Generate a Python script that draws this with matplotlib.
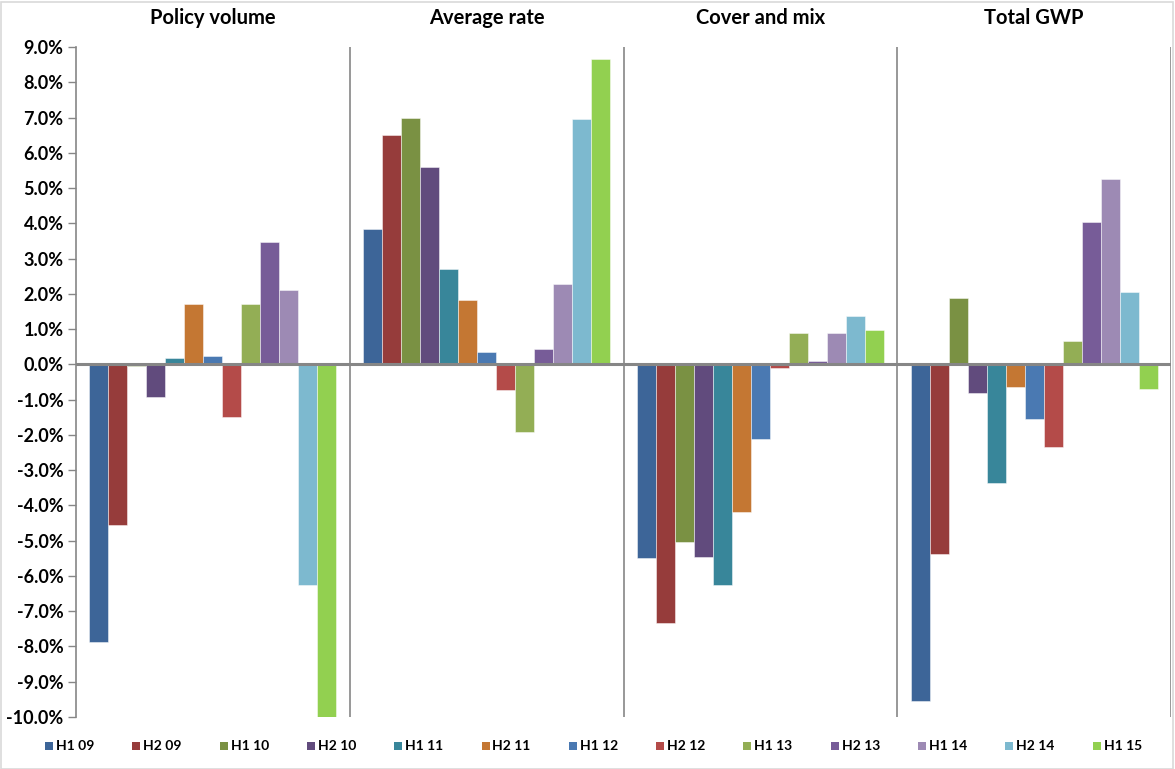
import matplotlib
matplotlib.use("Agg")
import matplotlib.pyplot as plt
import numpy as np
from matplotlib.patches import Rectangle
from matplotlib.ticker import FuncFormatter, MultipleLocator

plt.rcParams["font.family"] = ["Lato", "DejaVu Sans"]

# ---------------------------------------------------------------- data
panels = ["Policy volume", "Average rate", "Cover and mix", "Total GWP"]
periods = ["H1 09", "H2 09", "H1 10", "H2 10", "H1 11", "H2 11", "H1 12",
           "H2 12", "H1 13", "H2 13", "H1 14", "H2 14", "H1 15"]

# % change per period, one list per panel
policy_volume = [-7.87, -4.55, -0.05, -0.93, 0.19, 1.71, 0.25,
                 -1.50, 1.71, 3.47, 2.11, -6.27, -10.2]
average_rate = [3.84, 6.50, 7.00, 5.59, 2.70, 1.83, 0.35,
                -0.72, -1.92, 0.45, 2.28, 6.97, 8.65]
cover_and_mix = [-5.49, -7.33, -5.05, -5.47, -6.26, -4.20, -2.13,
                 -0.11, 0.90, 0.10, 0.89, 1.36, 0.97]
total_gwp = [-9.54, -5.38, 1.88, -0.82, -3.37, -0.64, -1.54,
             -2.35, 0.67, 4.03, 5.26, 2.05, -0.69]

colours = ["#3D6598", "#963C3B", "#7A9143", "#614B7D", "#38869A", "#C47733",
           "#4A79B2", "#B44B49", "#93AE55", "#775C98", "#9D8AB4", "#7DB9CF",
           "#92D050"]

values = np.array([policy_volume, average_rate, cover_and_mix, total_gwp])

# ---------------------------------------------------------------- figure
W, H = 1175, 769
fig = plt.figure(figsize=(W / 100, H / 100), dpi=100)
ax = fig.add_axes([76 / W, 1 - 717 / H, (1171 - 76) / W, (717 - 47) / H])

grey = "#868686"
bar_w = 19 / 274
x0 = np.arange(len(panels))
for i, (name, col) in enumerate(zip(periods, colours)):
    xs = x0 + (i - 6) * bar_w
    ax.bar(xs, values[:, i], width=bar_w, color=col,
           edgecolor=(1, 1, 1, 0.55), linewidth=0.6, zorder=2)

ax.set_xlim(-0.5, len(panels) - 0.5)
ax.set_ylim(-10, 9)
ax.yaxis.set_major_locator(MultipleLocator(1))
ax.yaxis.set_major_formatter(FuncFormatter(lambda v, _: f"{v:.1f}%"))
ax.tick_params(axis="y", direction="out", length=6, width=1, color=grey,
               labelsize=13, pad=3)
for lab in ax.get_yticklabels():
    lab.set_fontweight("bold")
ax.set_xticks([])

for side in ["top", "right", "bottom"]:
    ax.spines[side].set_visible(False)
ax.spines["left"].set_color(grey)
ax.spines["left"].set_linewidth(1.2)

# group separators and zero line
for b in x0[1:] - 0.5:
    ax.axvline(b, color=grey, lw=1.2, zorder=1)
ax.axvline(len(panels) - 0.5, color=grey, lw=1.2, zorder=1)
ax.axhline(0, color=grey, lw=2.2, zorder=3)

# panel titles
for k, title in enumerate(panels):
    ax.text(k, 1.0 + 29 / 670, title, transform=ax.get_xaxis_transform(),
            ha="center", va="center", fontsize=14.5, fontweight="bold")

# legend row along the bottom
for i, (name, col) in enumerate(zip(periods, colours)):
    px = 45 + i * 87.3
    fig.add_artist(Rectangle((px / W, 1 - 750 / H), 8 / W, 8 / H,
                             transform=fig.transFigure, color=col, lw=0))
    fig.text((px + 11) / W, 1 - 745.5 / H, name, ha="left", va="center",
             fontsize=10, fontweight="bold")

# chart border
fig.add_artist(Rectangle((0.5 / W, 0.5 / H), 1 - 2.5 / W, 1 - 2.5 / H,
                         transform=fig.transFigure, fill=False,
                         edgecolor="#D9D9D9", lw=1.2))

fig.savefig("out.png", dpi=100, facecolor="white")
